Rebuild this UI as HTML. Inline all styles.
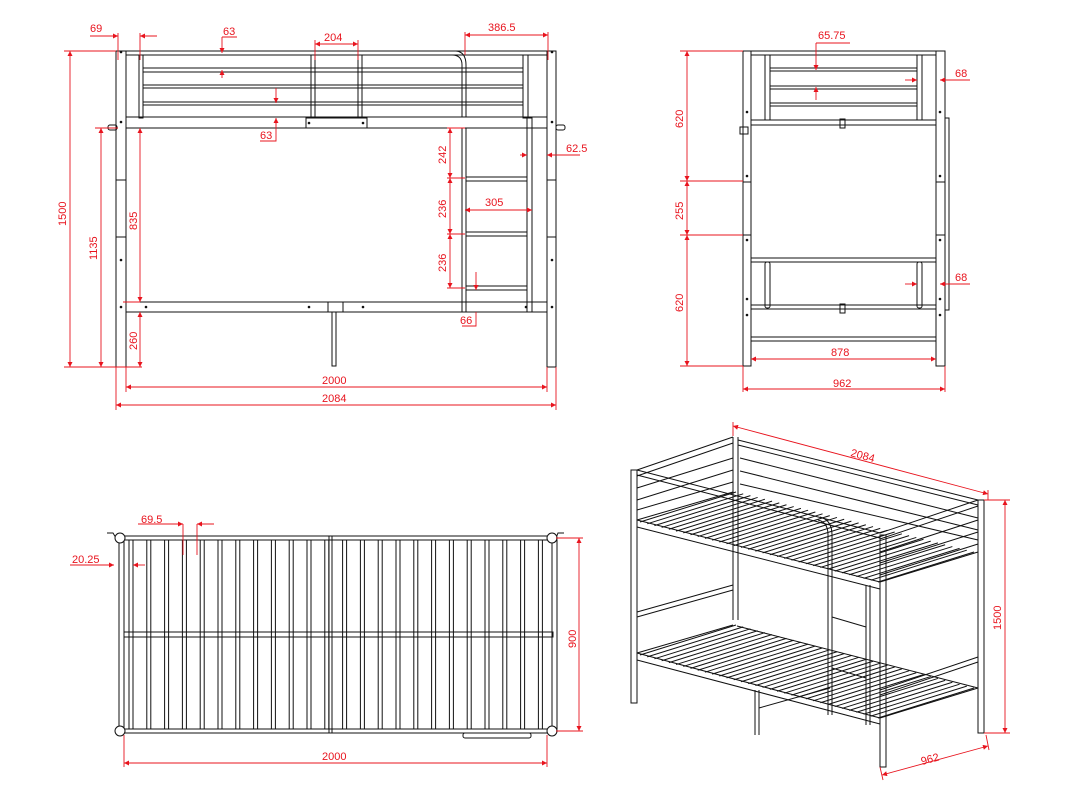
<!DOCTYPE html>
<html><head><meta charset="utf-8"><style>
html,body{margin:0;padding:0;background:#fff;}
svg{display:block}
text{font-family:"Liberation Sans",sans-serif;font-size:11px;fill:#e8141e}
.k{stroke:#111;stroke-width:1;fill:none}
.kf{stroke:#111;stroke-width:1;fill:#fff}
.r{stroke:#e8141e;stroke-width:0.9;fill:none}
.d{fill:#111}
</style></head><body>
<svg id="s" width="1088" height="804" viewBox="0 0 1088 804" xmlns="http://www.w3.org/2000/svg">
<defs>
<marker id="a" viewBox="0 0 10 10" refX="10" refY="5" markerWidth="7" markerHeight="5" orient="auto-start-reverse" markerUnits="userSpaceOnUse"><path d="M0,0L10,5L0,10z" fill="#e8141e"/></marker>
</defs>
<!-- FRONT VIEW -->
<g class="k">
<rect x="116" y="51" width="10" height="316"/>
<rect x="547" y="51" width="9" height="316"/>
<rect x="126" y="51" width="421" height="4"/>
<rect x="139" y="55" width="4" height="63"/>
<rect x="523" y="55" width="5" height="63"/>
<rect x="143" y="68" width="380" height="4"/>
<rect x="143" y="85" width="380" height="3"/>
<rect x="143" y="102" width="380" height="3"/>
<rect x="311" y="55" width="4" height="63"/><rect x="358" y="55" width="4" height="63"/>
<rect x="126" y="117" width="421" height="11"/>
<rect x="306" y="118" width="61" height="10"/>
<rect x="126" y="302" width="421" height="10"/>
<rect x="328" y="302" width="15" height="10"/>
<rect x="332" y="312" width="4" height="54"/>
<path d="M462,128V312M466,128V312M462,117V65Q462,55 452,55M466,117V65Q466,52 456,51"/>
<rect x="527" y="118" width="5" height="194"/>
<rect x="466" y="177" width="61" height="4"/>
<rect x="466" y="232" width="61" height="4"/>
<rect x="466" y="286" width="61" height="4"/>
<rect x="108" y="125" width="9" height="5" rx="2"/><rect x="556" y="125" width="9" height="5" rx="2"/>
<path d="M116,180H126M116,237H126M547,180H556M547,237H556"/>
</g>
<g class="d">
<circle cx="121" cy="52" r="1.3"/><circle cx="121" cy="122" r="1.3"/><circle cx="121" cy="260" r="1.3"/><circle cx="121" cy="307" r="1.3"/>
<circle cx="552" cy="52" r="1.3"/><circle cx="552" cy="122" r="1.3"/><circle cx="552" cy="260" r="1.3"/><circle cx="552" cy="307" r="1.3"/>
<circle cx="309" cy="123" r="1.3"/><circle cx="363" cy="123" r="1.3"/><circle cx="146" cy="307" r="1.3"/><circle cx="309" cy="307" r="1.3"/><circle cx="363" cy="307" r="1.3"/><circle cx="526" cy="307" r="1.3"/>
<circle cx="747" cy="112" r="1.3"/><circle cx="747" cy="176" r="1.3"/><circle cx="747" cy="240" r="1.3"/><circle cx="747" cy="299" r="1.3"/><circle cx="747" cy="315" r="1.3"/>
<circle cx="940" cy="112" r="1.3"/><circle cx="940" cy="176" r="1.3"/><circle cx="940" cy="240" r="1.3"/><circle cx="940" cy="299" r="1.3"/><circle cx="940" cy="315" r="1.3"/>
</g>
<!-- SIDE VIEW -->
<g class="k">
<rect x="743" y="51" width="8" height="315"/>
<rect x="936" y="51" width="9" height="315"/>
<rect x="751" y="51" width="185" height="4"/>
<rect x="765" y="55" width="5" height="65"/><rect x="917" y="55" width="5" height="65"/>
<rect x="770" y="68" width="147" height="3"/>
<rect x="770" y="86" width="147" height="3"/>
<rect x="770" y="103" width="147" height="3"/>
<rect x="751" y="120" width="185" height="5"/>
<rect x="840" y="119" width="5" height="9"/>
<rect x="751" y="258" width="185" height="4"/>
<rect x="765" y="262" width="5" height="46" rx="2"/><rect x="917" y="262" width="5" height="46" rx="2"/>
<rect x="751" y="305" width="185" height="4"/>
<rect x="840" y="304" width="5" height="9"/>
<rect x="751" y="337" width="185" height="4"/>
<rect x="945" y="118" width="4" height="192"/>
<rect x="740" y="127" width="8" height="7"/>
<path d="M743,182H751M743,235H751M936,182H945M936,235H945"/>
</g>
<!-- TOP VIEW -->
<g class="k" id="top">
<rect x="124" y="536" width="429" height="4"/>
<rect x="124" y="729" width="429" height="4"/>
<rect x="119" y="540" width="5" height="189"/>
<rect x="552" y="540" width="5" height="189"/>
<rect x="124" y="632" width="429" height="5"/>
<path d="M107,533H113L116,538M564,533H558L556,538"/>
<rect x="463" y="733" width="68" height="5" rx="2"/>
</g>
<g class="kf"><circle cx="120" cy="538" r="5"/><circle cx="552" cy="538" r="5"/><circle cx="120" cy="731" r="5"/><circle cx="552" cy="731" r="5"/></g>
<!-- ISO VIEW -->
<g class="k" id="iso">
<rect x="631" y="470" width="6" height="233"/>
<rect x="880" y="535" width="6" height="232"/>
<rect x="978" y="500" width="6" height="233"/>
<path d="M733,437V620M738,437V620"/>
<path d="M755,690V735M759,690V735M759,708L830,688"/>
<path d="M637,470L733,437M637,476L733,443M880,533L978,500M880,539L978,506"/>
<path d="M738,440L978,500M738,445L978,505"/>
<path d="M637,470L880,533M637,475L880,538"/>
<path d="M637,520L880,582M637,527L880,589M637,520L733,492M880,582L978,552"/>
<path d="M637,488L733,458M637,500L733,470M637,510L733,482"/>
<path d="M740,458L978,518M740,471L978,530M740,484L978,540"/>
<path d="M880,552L978,520M880,563L978,532M880,575L978,544"/>
<path d="M637,653L880,718M637,660L880,724M637,653L733,625M880,718L978,688M637,612L733,585M637,617L733,590M880,690L978,657M880,695L978,662"/>
<path d="M737,626L978,688"/>
<path d="M828,590V715M832,590V715M828,590V535Q828,522 818,520M832,590V535Q832,520 820,517M866,585V725M870,585V725M832,617L866,627M832,668L866,678"/>
</g>
<!-- RED DIMENSIONS -->
<g class="r">
<path d="M70,51V367" marker-start="url(#a)" marker-end="url(#a)"/><path d="M64,51H116M64,367H142M95,128H118M123,302H140"/>
<path d="M101,128V367" marker-start="url(#a)" marker-end="url(#a)"/>
<path d="M140,128V302" marker-start="url(#a)" marker-end="url(#a)"/>
<path d="M140,312V367" marker-start="url(#a)" marker-end="url(#a)"/>
<path d="M126,387H547" marker-start="url(#a)" marker-end="url(#a)"/><path d="M126,367V392M547,367V392M116,367V410M556,367V410"/>
<path d="M116,405H556" marker-start="url(#a)" marker-end="url(#a)"/>
<path d="M90,36H118" marker-end="url(#a)"/><path d="M157,36H140" marker-end="url(#a)"/><path d="M118,33V60M140,33V60"/>
<path d="M222,45V53" marker-end="url(#a)"/><path d="M222,78V70" marker-end="url(#a)"/><path d="M222,37H237M222,37V45"/>
<path d="M276,88V103" marker-end="url(#a)"/><path d="M276,126V118" marker-end="url(#a)"/><path d="M276,118V141H260"/>
<path d="M315,44H358" marker-start="url(#a)" marker-end="url(#a)"/><path d="M315,40V60M358,40V60"/>
<path d="M465,35H548" marker-start="url(#a)" marker-end="url(#a)"/><path d="M465,32V55M548,32V60"/>
<path d="M520,155H527" marker-end="url(#a)"/><path d="M580,155H547" marker-end="url(#a)"/>
<path d="M450,128V178" marker-start="url(#a)" marker-end="url(#a)"/>
<path d="M450,178V234" marker-start="url(#a)" marker-end="url(#a)"/>
<path d="M450,234V288" marker-start="url(#a)" marker-end="url(#a)"/>
<path d="M447,128H465M447,178H465M447,234H465M447,288H465"/>
<path d="M465,210H532" marker-start="url(#a)" marker-end="url(#a)"/>
<path d="M476,272V290" marker-end="url(#a)"/><path d="M476,312V326H462"/>
<path d="M687,51V181" marker-start="url(#a)" marker-end="url(#a)"/>
<path d="M687,181V235" marker-start="url(#a)" marker-end="url(#a)"/>
<path d="M687,235V366" marker-start="url(#a)" marker-end="url(#a)"/>
<path d="M680,51H743M680,181H743M680,235H743M680,366H743"/>
<path d="M816,58V70" marker-end="url(#a)"/><path d="M816,100V87" marker-end="url(#a)"/><path d="M816,43V58M816,43H850"/>
<path d="M905,80H917" marker-end="url(#a)"/><path d="M970,80H940" marker-end="url(#a)"/>
<path d="M905,284H917" marker-end="url(#a)"/><path d="M970,284H940" marker-end="url(#a)"/>
<path d="M751,359H936" marker-start="url(#a)" marker-end="url(#a)"/>
<path d="M743,389H945" marker-start="url(#a)" marker-end="url(#a)"/><path d="M743,366V392M945,366V392"/>
<path d="M138,524H183" marker-end="url(#a)"/><path d="M214,524H197" marker-end="url(#a)"/><path d="M183,524V555M197,524V555"/>
<path d="M70,565H114" marker-end="url(#a)"/><path d="M145,565H133" marker-end="url(#a)"/>
<path d="M579,538V731" marker-start="url(#a)" marker-end="url(#a)"/><path d="M556,538H583M556,731H583"/>
<path d="M124,763H547" marker-start="url(#a)" marker-end="url(#a)"/><path d="M124,735V767M547,735V767"/>
<path d="M733,426L988,494" marker-start="url(#a)" marker-end="url(#a)"/><path d="M733,422V436M988,490V500"/>
<path d="M1005,500V733" marker-start="url(#a)" marker-end="url(#a)"/><path d="M984,500H1010M984,733H1010"/>
<path d="M882,775L988,746" marker-start="url(#a)" marker-end="url(#a)"/><path d="M880,767L883,780M986,735L989,750"/>
</g>
<g>
<text x="90" y="32">69</text><text x="223" y="35">63</text><text x="324" y="41">204</text><text x="488" y="31">386.5</text>
<text x="260" y="139">63</text><text x="566" y="152">62.5</text><text x="485" y="206">305</text><text x="460" y="324">66</text>
<text x="322" y="384">2000</text><text x="322" y="402">2084</text>
<text transform="translate(66,226) rotate(-90)">1500</text>
<text transform="translate(97,260) rotate(-90)">1135</text>
<text transform="translate(137,230) rotate(-90)">835</text>
<text transform="translate(137,350) rotate(-90)">260</text>
<text transform="translate(446,164) rotate(-90)">242</text>
<text transform="translate(446,218) rotate(-90)">236</text>
<text transform="translate(446,272) rotate(-90)">236</text>
<text x="818" y="39">65.75</text><text x="955" y="77">68</text><text x="955" y="281">68</text>
<text x="831" y="356">878</text><text x="833" y="387">962</text>
<text transform="translate(683,128) rotate(-90)">620</text>
<text transform="translate(683,220) rotate(-90)">255</text>
<text transform="translate(683,312) rotate(-90)">620</text>
<text x="141" y="523">69.5</text><text x="72" y="563">20.25</text><text x="322" y="760">2000</text>
<text transform="translate(576,648) rotate(-90)">900</text>
<text transform="translate(850,456) rotate(15)">2084</text>
<text transform="translate(1001,630) rotate(-90)">1500</text>
<text transform="translate(922,765) rotate(-15)">962</text>
</g>
</svg>
<script>
(function(){var ns='http://www.w3.org/2000/svg';
function ln(p,x1,y1,x2,y2){var l=document.createElementNS(ns,'line');l.setAttribute('x1',x1);l.setAttribute('y1',y1);l.setAttribute('x2',x2);l.setAttribute('y2',y2);l.setAttribute('class','k');p.appendChild(l);}
var t=document.getElementById('top');
for(var x=129;x<548;x+=17.8){ln(t,x,540,x,729);ln(t,x+4,540,x+4,729);}
ln(t,329,536,329,733);ln(t,332,536,332,733);
var i=document.getElementById('iso');
for(var k=0;k<34;k++){var f=k/33;
var ax=640+f*(878-640),ay=522+f*(582-522);ln(i,ax,ay,ax+96,ay-30);
var bx=640+f*(878-640),by=655+f*(718-655);ln(i,bx,by,bx+96,by-30);}
})();
</script>
</body></html>
